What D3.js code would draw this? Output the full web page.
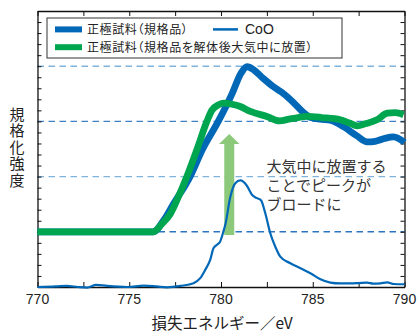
<!DOCTYPE html>
<html>
<head>
<meta charset="utf-8">
<script src="https://cdn.jsdelivr.net/npm/d3@7"></script>
<style>
  html, body { margin: 0; padding: 0; background: #fff; }
  svg { display: block; }
</style>
</head>
<body>
<svg id="chart" width="417" height="332"></svg>
<script>
// Energy-loss spectra (eV) and normalized intensities
const energyStd = [770, 776.3, 776.9, 777.4, 778.3, 779.0, 779.85, 780.6, 781.1, 781.42, 781.8, 782.3, 782.85, 783.3, 783.7, 784.1, 784.5, 784.9, 785.4, 786.0, 786.7, 787.4, 787.96, 788.4, 788.9, 789.4, 790.0];
const valueStd  = [1.0, 1.0, 1.22, 1.5, 1.99, 2.5, 3.0, 3.5, 3.88, 3.99, 3.93, 3.78, 3.63, 3.53, 3.42, 3.29, 3.16, 3.07, 3.04, 3.02, 2.9, 2.74, 2.63, 2.64, 2.69, 2.72, 2.62];

const energyAir = [770, 776.3, 776.8, 777.23, 777.7, 778.14, 778.7, 779.23, 779.5, 779.87, 780.14, 780.6, 781.05, 781.6, 782.5, 783.2, 783.7, 784.2, 784.69, 785.5, 786.5, 787.0, 787.42, 787.9, 788.5, 789.06, 789.5, 789.95];
const valueAir  = [1.0, 1.0, 1.15, 1.32, 1.65, 2.0, 2.5, 3.0, 3.2, 3.3, 3.33, 3.31, 3.27, 3.18, 3.09, 3.01, 3.04, 3.07, 3.09, 3.07, 3.03, 2.97, 2.92, 2.96, 3.03, 3.15, 3.16, 3.12];

const energyCoO = [770, 771, 771.6, 772.2, 772.7, 773.2, 773.8, 774.9, 775.8, 776.5, 777.05, 777.8, 778.5, 778.87, 779.14, 779.41, 779.59, 779.8, 779.95, 780.1, 780.25, 780.5, 780.78, 781.05, 781.42, 781.69, 781.96, 782.18, 782.41, 782.69, 782.96, 783.23, 783.78, 784.33, 784.87, 785.42, 785.96, 786.5, 787.05, 787.5, 787.96, 788.3, 788.69, 789.06, 789.42, 790];
const valueCoO  = [0.0, 0.01, 0.02, 0.0, -0.01, 0.04, 0.02, 0.0, 0.025, 0.01, -0.005, 0.02, 0.07, 0.16, 0.31, 0.49, 0.70, 0.77, 0.82, 0.97, 1.15, 1.62, 1.88, 1.93, 1.83, 1.67, 1.61, 1.57, 1.34, 0.97, 0.73, 0.55, 0.43, 0.34, 0.25, 0.14, 0.08, 0.065, 0.065, 0.07, 0.078, 0.06, 0.067, 0.085, 0.054, 0.05];

const xTickLabels = [770, 775, 780, 785, 790];
const gridLevels = [1, 2, 3, 4];
const seriesNames = ["正極試料（規格品）", "正極試料（規格品を解体後大気中に放置）", "CoO"];
const noteLines = ["大気中に放置する", "ことでピークが", "ブロードに"];
const yTitle = "規格化強度";
const xTitle = "損失エネルギー／eV";
const arrowFrom = 0.94, arrowTo = 2.77, arrowAt = 780.45;

const BLUE = "#0068b7", GREEN = "#00a54f", ARROW = "#8dc97b";
const gridColors = { 1: "#2a74c0", 2: "#7fb3dc", 3: "#3f80c4", 4: "#7fb3dc" };

const svg = d3.select("#chart");
const x = d3.scaleLinear().domain([770, 790]).range([37.5, 404.5]);
const y = d3.scaleLinear().domain([0, 5]).range([287, 11]);

// dashed reference levels
svg.append("g").selectAll("line").data(gridLevels).join("line")
  .attr("x1", x(770)).attr("x2", x(790))
  .attr("y1", d => y(d)).attr("y2", d => y(d))
  .attr("stroke", d => gridColors[d]).attr("stroke-width", 1.4)
  .attr("stroke-dasharray", "6.5,4.5");

// frame axes with inward ticks
const tickLabelFont = "'Liberation Sans', Arial, sans-serif";
const xMinor = d3.range(770, 790.01, 2.5);
const yMinor = d3.range(0, 5.001, 0.2);

const axisBottomG = svg.append("g").attr("transform", `translate(0,${y(0)})`)
  .call(d3.axisBottom(x).tickValues(xMinor).tickSizeInner(-5).tickSizeOuter(0).tickFormat(""));
const axisTopG = svg.append("g").attr("transform", `translate(0,${y(5)})`)
  .call(d3.axisTop(x).tickValues(xMinor).tickSizeInner(-5).tickSizeOuter(0).tickFormat(""));
const axisLeftG = svg.append("g").attr("transform", `translate(${x(770)},0)`)
  .call(d3.axisLeft(y).tickValues(yMinor).tickSizeInner(-4).tickSizeOuter(0).tickFormat(""));
const axisRightG = svg.append("g").attr("transform", `translate(${x(790)},0)`)
  .call(d3.axisRight(y).tickValues(yMinor).tickSizeInner(-4).tickSizeOuter(0).tickFormat(""));
[axisBottomG, axisTopG, axisLeftG, axisRightG].forEach(g => {
  g.selectAll("path").attr("stroke", "#111").attr("stroke-width", 1.3);
  g.selectAll("line").attr("stroke", "#111").attr("stroke-width", 1);
});

// x tick labels
svg.append("g").selectAll("text").data(xTickLabels).join("text")
  .attr("x", d => x(d)).attr("y", 303.5)
  .attr("text-anchor", "middle")
  .attr("font-family", tickLabelFont).attr("font-size", 14).attr("fill", "#222")
  .text(d => d);

// arrow
const ax = x(arrowAt);
const headH = 10, headW = 20.5, shaftW = 10;
svg.append("path")
  .attr("d", `M${ax - shaftW / 2},${y(arrowFrom)} L${ax - shaftW / 2},${y(arrowTo) + headH} L${ax - headW / 2},${y(arrowTo) + headH} L${ax},${y(arrowTo)} L${ax + headW / 2},${y(arrowTo) + headH} L${ax + shaftW / 2},${y(arrowTo) + headH} L${ax + shaftW / 2},${y(arrowFrom)} Z`)
  .attr("fill", ARROW);

// spectra
const line = d3.line().x(d => x(d[0])).y(d => y(d[1])).curve(d3.curveMonotoneX);
const zipped = (e, v) => e.map((d, i) => [d, v[i]]);

svg.append("path").datum(zipped(energyCoO, valueCoO))
  .attr("d", line).attr("fill", "none").attr("stroke", BLUE)
  .attr("stroke-width", 2.2).attr("stroke-linejoin", "round");

svg.append("path").datum(zipped(energyStd, valueStd))
  .attr("d", line).attr("fill", "none").attr("stroke", BLUE)
  .attr("stroke-width", 6.8).attr("stroke-linejoin", "round");

svg.append("path").datum(zipped(energyAir, valueAir))
  .attr("d", line).attr("fill", "none").attr("stroke", GREEN)
  .attr("stroke-width", 6.8).attr("stroke-linejoin", "round");

// annotation
const jp = "'Noto Sans CJK JP', 'Noto Sans', sans-serif";
svg.append("g").selectAll("text").data(noteLines).join("text")
  .attr("x", 266.5).attr("y", (d, i) => 172 + i * 19.2)
  .attr("font-family", jp).attr("font-size", 15).attr("fill", "#333")
  .text(d => d);

// y title, set vertically
svg.append("text")
  .attr("x", 17).attr("y", 148)
  .attr("text-anchor", "middle")
  .style("writing-mode", "vertical-rl")
  .style("letter-spacing", "1.5px")
  .attr("font-family", jp).attr("font-size", 15).attr("fill", "#222")
  .text(yTitle);

// x title
svg.append("text")
  .attr("x", 222).attr("y", 329)
  .attr("text-anchor", "middle")
  .attr("font-family", jp).attr("font-size", 15.5).attr("fill", "#222")
  .text(xTitle);

// legend
const lg = svg.append("g");
lg.append("rect").attr("x", 47).attr("y", 18).attr("width", 295).attr("height", 40)
  .attr("fill", "#fff").attr("stroke", "#333").attr("stroke-width", 1);
const legendItems = [
  { name: seriesNames[0], color: BLUE, w: 6, x0: 55, x1: 82, ty: 29.4, tx: 87 },
  { name: seriesNames[1], color: GREEN, w: 6, x0: 55, x1: 82, ty: 47.2, tx: 87 },
  { name: seriesNames[2], color: BLUE, w: 2.5, x0: 213, x1: 238, ty: 29.4, tx: 245 }
];
legendItems.forEach(it => {
  lg.append("line").attr("x1", it.x0).attr("x2", it.x1).attr("y1", it.ty).attr("y2", it.ty)
    .attr("stroke", it.color).attr("stroke-width", it.w);
  const t = lg.append("text").attr("x", it.tx).attr("y", it.ty + 4.3)
    .attr("font-family", it.name === "CoO" ? tickLabelFont : jp)
    .attr("font-size", it.name === "CoO" ? 14 : 12).attr("fill", "#222")
    .text(it.name);
  if (it.name !== "CoO") t.style("font-feature-settings", "'palt'").style("letter-spacing", "0.6px");
});
</script>
</body>
</html>
